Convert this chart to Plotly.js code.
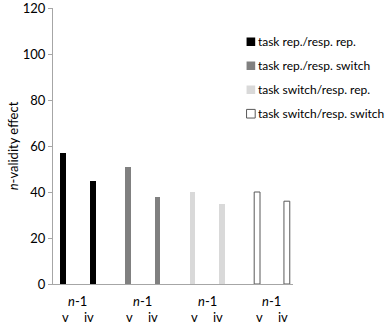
<!DOCTYPE html>
<html><head><meta charset="utf-8">
<script src="https://cdn.plot.ly/plotly-3.0.1.min.js"></script>
<style>html,body{margin:0;padding:0;background:#fff}#chart{width:387px;height:324px}</style>
</head><body><div id="chart"></div>
<script>
// Data
const conditions = ["task rep./resp. rep.", "task rep./resp. switch", "task switch/resp. rep.", "task switch/resp. switch"];
const validityLabels = ["v", "iv"];
const groupLabel = "<i>n</i>-1";
const validValues = [57, 51, 40, 40];
const invalidValues = [45, 38, 35, 36];
const yTicks = [0, 20, 40, 60, 80, 100, 120];

// Styles
const fills = ["#000000", "#808080", "#d9d9d9", "#ffffff"];
const lines = ["#000000", "#808080", "#d9d9d9", "#595959"];
const withinOffset = 0.46;
const FONT = "Lato, 'Open Sans', sans-serif";

const traces = conditions.map((name, g) => ({
  type: "bar",
  name: name,
  x: [g, g + withinOffset],
  y: [validValues[g], invalidValues[g]],
  width: 0.09,
  marker: {color: fills[g], line: {color: lines[g], width: g === 3 ? 1 : 0}},
  legendgroup: "g" + g,
  hoverinfo: "skip"
}));

const annotations = [];
conditions.forEach((c, g) => {
  annotations.push({x: g + withinOffset / 2, y: 0, xref: "x", yref: "y", yanchor: "top", yshift: -8, xshift: 0,
    borderpad: 0, text: groupLabel, showarrow: false, font: {family: FONT, size: 13, color: "#000"}});
  validityLabels.forEach((lab, k) => {
    annotations.push({x: g + k * withinOffset, y: 0, xref: "x", yref: "y", yanchor: "top", yshift: -24, xshift: k === 0 ? 2 : -4,
      borderpad: 0, text: lab, showarrow: false, font: {family: FONT, size: 13, color: "#000"}});
  });
});

const layout = {
  width: 387, height: 324,
  margin: {l: 53, r: 94, t: 8, b: 40, pad: 0, autoexpand: false},
  paper_bgcolor: "#fff", plot_bgcolor: "#fff",
  showlegend: true,
  legend: {xref: "container", yref: "container", x: 0.563, y: 0.916, xanchor: "left", yanchor: "top",
    font: {family: FONT, size: 12, color: "#000"}, tracegroupgap: 5, bgcolor: "rgba(0,0,0,0)"},
  xaxis: {range: [-0.155, 3.555], showgrid: false, zeroline: false, showticklabels: false, ticks: "",
    showline: true, linecolor: "#a6a6a6", linewidth: 1, fixedrange: true},
  yaxis: {range: [0, 120], tickvals: yTicks, showgrid: false, zeroline: false, showline: true,
    linecolor: "#a6a6a6", linewidth: 1, ticks: "outside", ticklen: 4, tickcolor: "#a6a6a6",
    ticklabeloverflow: "allow",
    tickfont: {family: FONT, size: 13, color: "#000"},
    title: {text: "<i>n</i>-validity effect", font: {family: FONT, size: 13, color: "#000"}, standoff: 1}},
  annotations: annotations,
  bargap: 0
};

Plotly.newPlot("chart", traces, layout, {staticPlot: true, displayModeBar: false}).then(() => {
  document.querySelectorAll("#chart .legend .traces .legendsymbols").forEach(g => {
    g.setAttribute("transform", "translate(13,0)");
  });
  document.querySelectorAll("#chart .legend .traces .legendsymbols path").forEach(p => {
    const t = p.getAttribute("transform") || "";
    p.setAttribute("transform", t + " scale(0.72)");
    p.style.vectorEffect = "non-scaling-stroke";
  });
});
</script></body></html>
